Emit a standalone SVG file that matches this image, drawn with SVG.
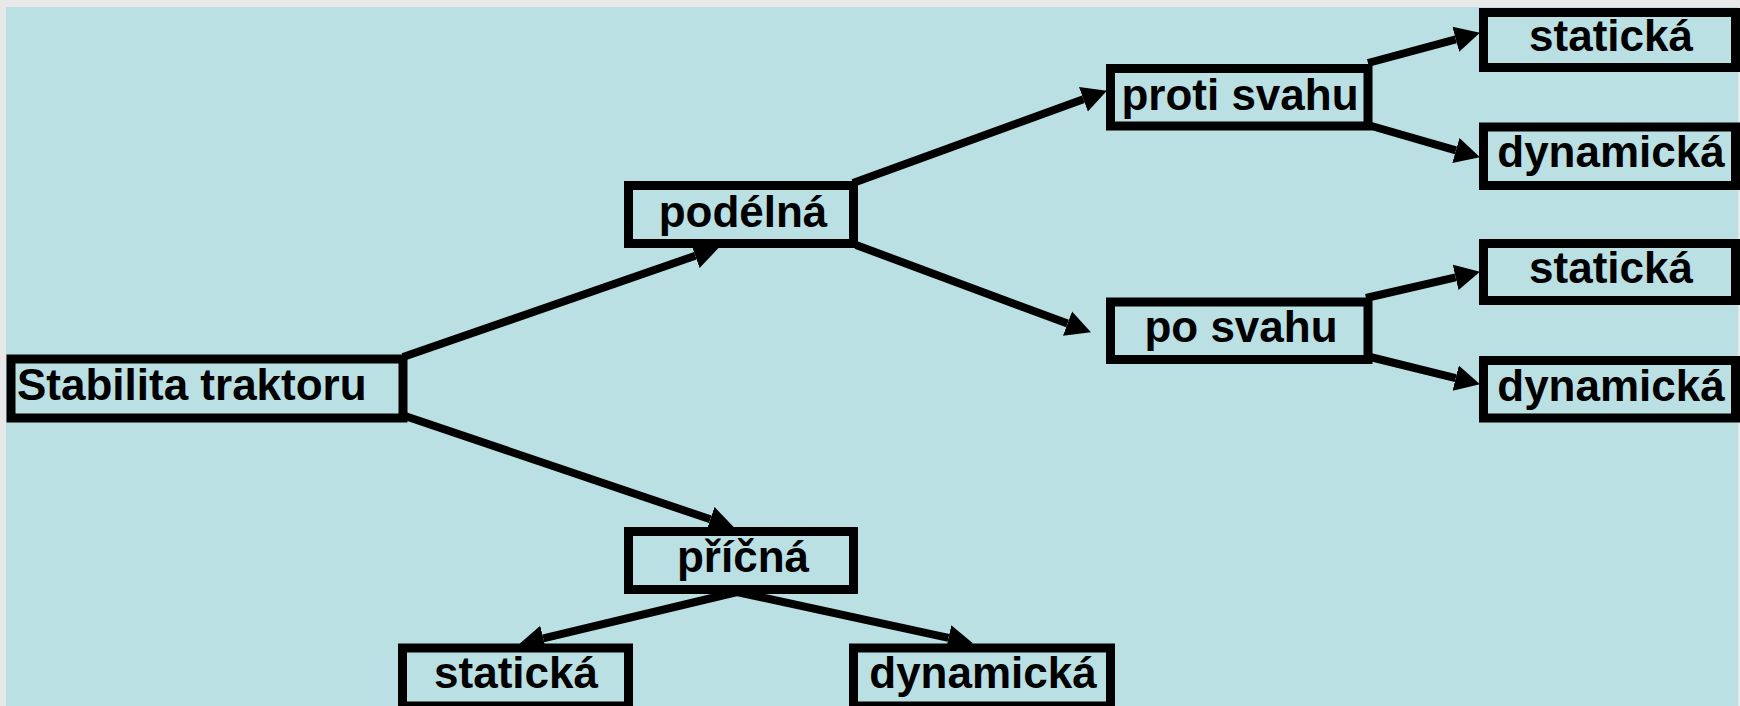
<svg xmlns="http://www.w3.org/2000/svg" width="1740" height="706" viewBox="0 0 1740 706">
  <style>
    .box { fill: #bae0e3; stroke: #000; stroke-width: 9; }
    .lbl { font-family: "Liberation Sans", Arial, sans-serif; font-weight: bold; font-size: 44px; fill: #000; }
    .mid { text-anchor: middle; }
    .edge { stroke: #000; stroke-width: 8; fill: none; marker-end: url(#arrow); }
  </style>
  <defs>
    <marker id="arrow" markerUnits="userSpaceOnUse" markerWidth="26" markerHeight="28" viewBox="0 -14 26 28" refX="0" refY="0" orient="auto">
      <path d="M0,-13 L25,0 L0,13 Z" fill="#000"/>
    </marker>
  </defs>

  <!-- page -->
  <rect x="0" y="0" width="1740" height="706" fill="#e8e8e8"/>
  <rect x="6" y="7" width="1732" height="699" fill="#bae0e3"/>

  <!-- connectors -->
  <g id="connectors">
    <line class="edge" x1="403" y1="357" x2="695.3" y2="255.8"/>
    <line class="edge" x1="405" y1="416" x2="710.3" y2="519.3"/>
    <line class="edge" x1="853" y1="183" x2="1083.4" y2="99.2"/>
    <line class="edge" x1="856" y1="245" x2="1067.5" y2="323.6"/>
    <line class="edge" x1="1368" y1="63" x2="1455.8" y2="39.3"/>
    <line class="edge" x1="1368" y1="125" x2="1455.9" y2="150.4"/>
    <line class="edge" x1="1366" y1="298" x2="1455.6" y2="277.4"/>
    <line class="edge" x1="1366" y1="356" x2="1455.7" y2="378.2"/>
    <line class="edge" x1="737" y1="592" x2="543.3" y2="638.4"/>
    <line class="edge" x1="737" y1="592" x2="948.5" y2="637.9"/>
  </g>

  <!-- nodes -->
  <g id="node-stabilita">
    <rect class="box" x="11" y="359" width="392" height="59"/>
    <text class="lbl" x="17" y="400">Stabilita traktoru</text>
  </g>
  <g id="node-podelna">
    <rect class="box" x="628.5" y="185.5" width="225" height="58"/>
    <text class="lbl mid" x="743" y="227">podélná</text>
  </g>
  <g id="node-pricna">
    <rect class="box" x="628.5" y="531.5" width="225" height="58"/>
    <text class="lbl mid" x="743" y="572">příčná</text>
  </g>
  <g id="node-proti-svahu">
    <rect class="box" x="1110.5" y="68.5" width="257.5" height="57.5"/>
    <text class="lbl mid" x="1240" y="110">proti svahu</text>
  </g>
  <g id="node-po-svahu">
    <rect class="box" x="1110.5" y="302" width="257.5" height="57.5"/>
    <text class="lbl mid" x="1241" y="342">po svahu</text>
  </g>
  <g id="node-staticka-1">
    <rect class="box" x="1483.5" y="12.5" width="252" height="55"/>
    <text class="lbl mid" x="1611" y="51">statická</text>
  </g>
  <g id="node-dynamicka-1">
    <rect class="box" x="1483.5" y="127" width="252" height="58.5"/>
    <text class="lbl mid" x="1611" y="167">dynamická</text>
  </g>
  <g id="node-staticka-2">
    <rect class="box" x="1483.5" y="243.5" width="252" height="57"/>
    <text class="lbl mid" x="1611" y="283">statická</text>
  </g>
  <g id="node-dynamicka-2">
    <rect class="box" x="1483.5" y="360.5" width="252" height="57.5"/>
    <text class="lbl mid" x="1611" y="401">dynamická</text>
  </g>
  <g id="node-staticka-3">
    <rect class="box" x="402.5" y="648" width="226" height="58"/>
    <text class="lbl mid" x="516" y="688">statická</text>
  </g>
  <g id="node-dynamicka-3">
    <rect class="box" x="853.5" y="648" width="257" height="58"/>
    <text class="lbl mid" x="983" y="688">dynamická</text>
  </g>
</svg>
